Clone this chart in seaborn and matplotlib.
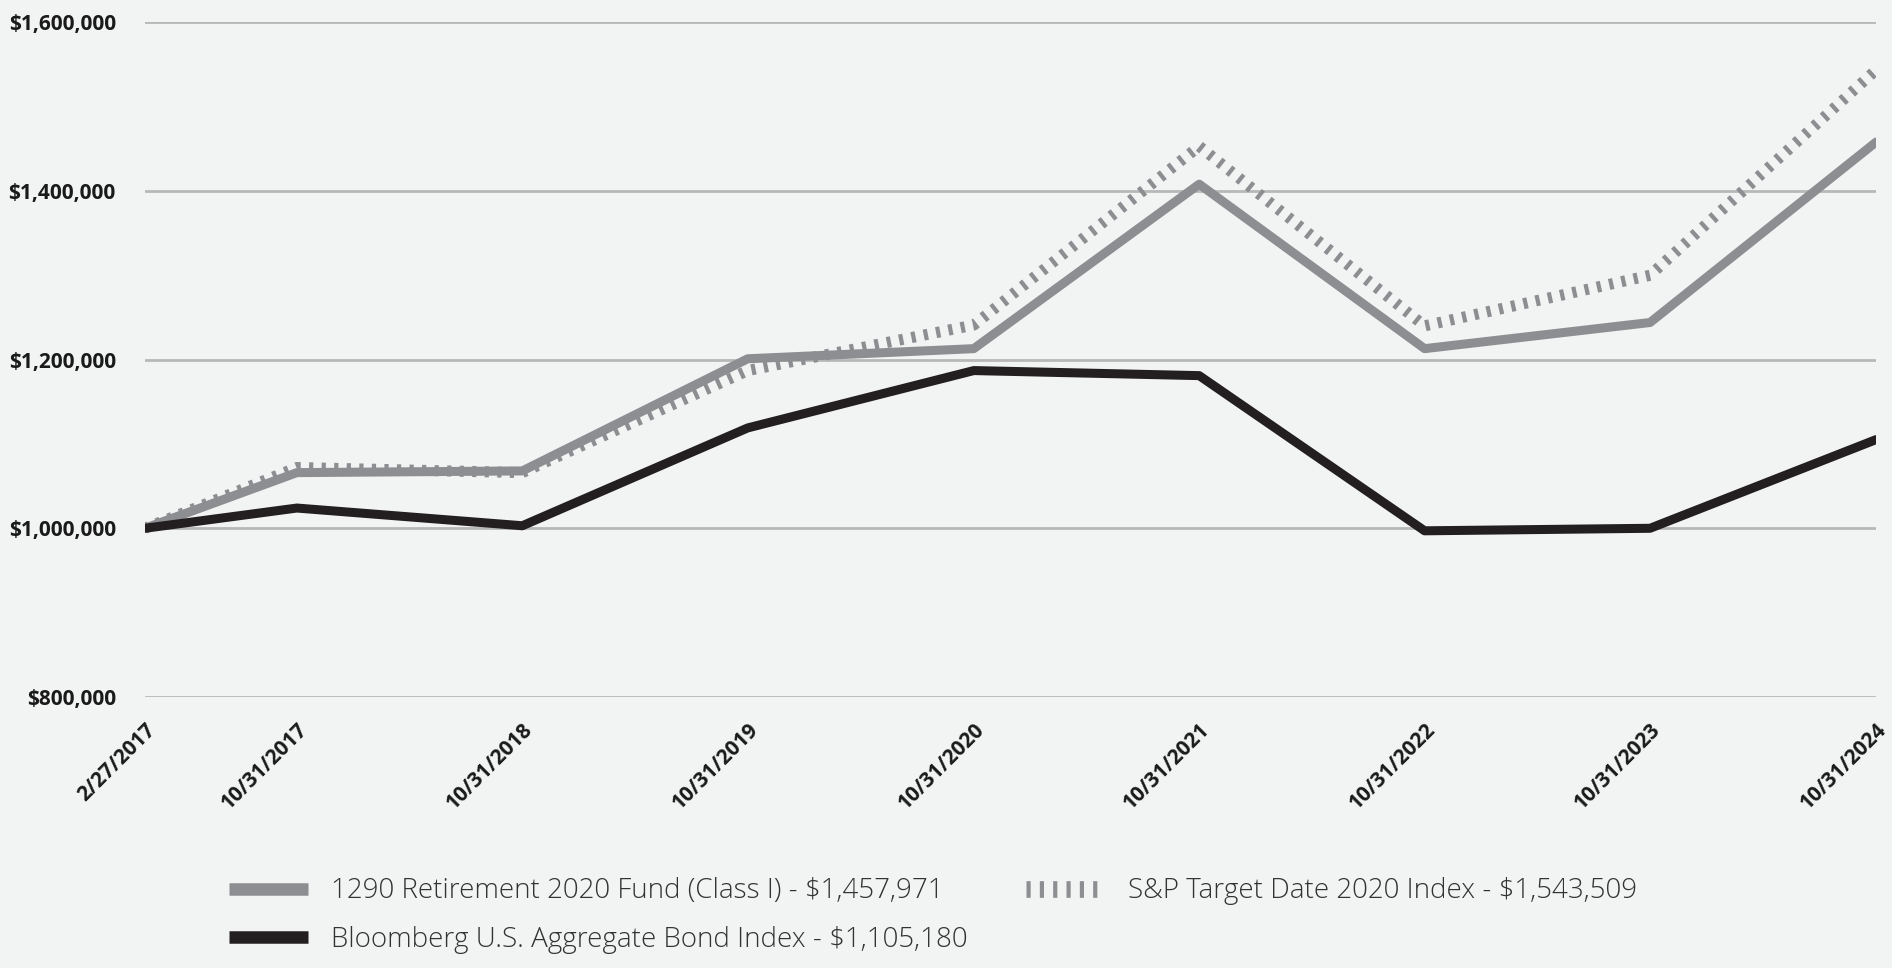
import pandas as pd
import matplotlib
matplotlib.use("Agg")
import matplotlib.pyplot as plt
import matplotlib.ticker as mticker
from matplotlib.lines import Line2D
import seaborn as sns

# Data
dates = ["2017-02-27", "2017-10-31", "2018-10-31", "2019-10-31", "2020-10-31",
         "2021-10-31", "2022-10-31", "2023-10-31", "2024-10-31"]
date_labels = ["2/27/2017", "10/31/2017", "10/31/2018", "10/31/2019", "10/31/2020",
               "10/31/2021", "10/31/2022", "10/31/2023", "10/31/2024"]
fund = [1000000, 1066000, 1068000, 1201000, 1213000, 1408000, 1213000, 1244000, 1457971]
sp_index = [1000000, 1072000, 1066000, 1187000, 1241000, 1453000, 1240000, 1300000, 1543509]
bond = [1000000, 1024000, 1003000, 1119000, 1187000, 1181000, 997000, 1000000, 1105180]

fund_label = "1290 Retirement 2020 Fund (Class I) - $1,457,971"
sp_label = "S&P Target Date 2020 Index - $1,543,509"
bond_label = "Bloomberg U.S. Aggregate Bond Index - $1,105,180"

df = pd.DataFrame({"date": pd.to_datetime(dates), "fund": fund, "sp": sp_index, "bond": bond})

bg = "#f2f4f3"
sns.set_theme(style="white")
plt.rcParams["font.family"] = ["Open Sans", "DejaVu Sans"]

fig = plt.figure(figsize=(18.92, 9.68), dpi=100, facecolor=bg)
ax = fig.add_axes([0.0766, 0.280, 0.915, 0.697])
ax.set_facecolor(bg)

grey = "#8d8e91"
dark = "#231f20"
sp_dash = (0.38, 0.75)

sns.lineplot(data=df, x="date", y="fund", ax=ax, color=grey, linewidth=6.5)
sns.lineplot(data=df, x="date", y="bond", ax=ax, color=dark, linewidth=6.5)
sns.lineplot(data=df, x="date", y="sp", ax=ax, color=grey, linewidth=8)
ax.lines[-1].set_dashes(sp_dash)
ax.lines[-1].set_dash_capstyle("butt")
ax.lines[-1].set_zorder(1.5)

ax.set_ylim(800000, 1600000)
ax.set_xlim(df["date"].iloc[0], df["date"].iloc[-1])
ax.yaxis.set_major_locator(mticker.MultipleLocator(200000))
ax.yaxis.set_major_formatter(mticker.FuncFormatter(lambda v, p: f"${v:,.0f}"))
ax.grid(axis="y", color="#b8b8b8", linewidth=2)
ax.set_axisbelow(True)
for s in ax.spines.values():
    s.set_visible(False)

ax.set_xticks(df["date"])
ax.set_xticklabels(date_labels, rotation=45, ha="right", rotation_mode="anchor",
                   fontsize=15, fontweight="bold", color="#1a1a1a")
ax.tick_params(axis="x", length=0, pad=16)
ax.tick_params(axis="y", length=0, pad=21, labelsize=15)
for t in ax.get_yticklabels():
    t.set_fontweight("bold")
    t.set_color("#1a1a1a")
ax.set_xlabel("")
ax.set_ylabel("")

handles = [
    Line2D([], [], color=grey, linewidth=9, solid_capstyle="butt"),
    Line2D([], [], color=dark, linewidth=9, solid_capstyle="butt"),
    Line2D([], [], color=grey, linewidth=12, dashes=(0.25, 0.55), dash_capstyle="butt"),
]
fig.legend(handles=handles, labels=[fund_label, bond_label, sp_label], ncol=2,
           loc="upper left", bbox_to_anchor=(0.1078, 0.1195), frameon=False,
           handlelength=2.85, handletextpad=0.83, columnspacing=2.1,
           labelspacing=0.75, labelcolor="#333333", prop={"weight": "light", "size": 20})

fig.savefig("out.png", dpi=100, facecolor=bg)
